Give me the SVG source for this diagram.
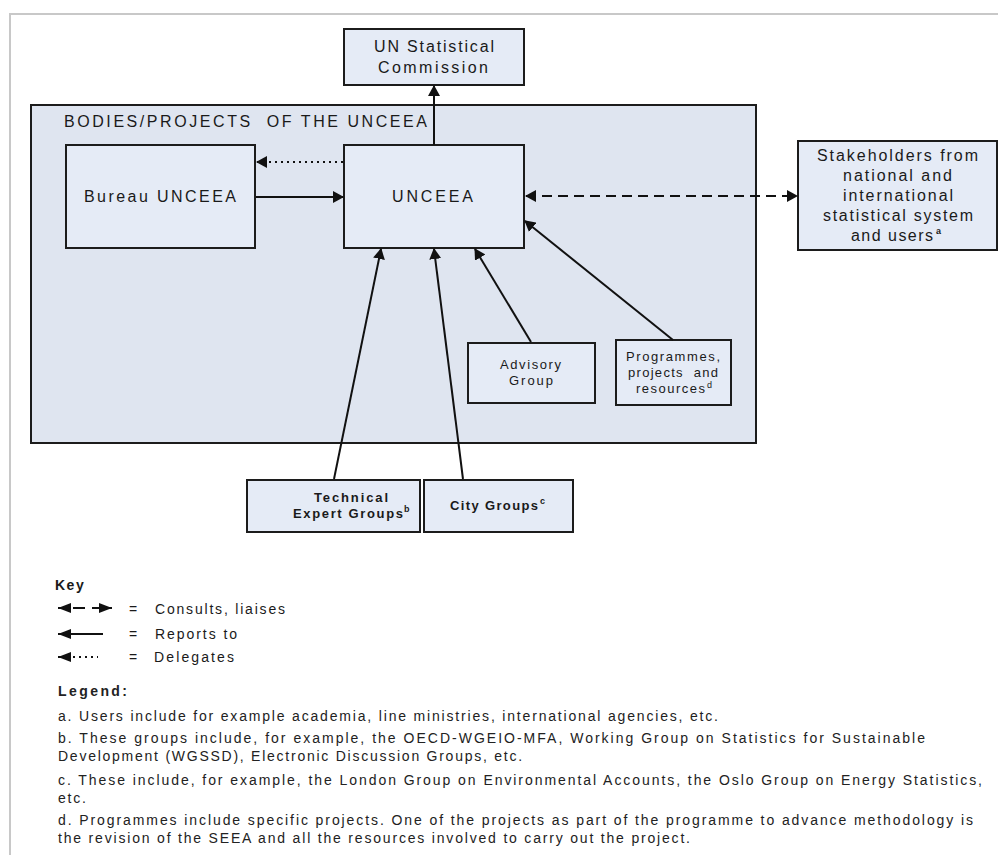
<svg xmlns="http://www.w3.org/2000/svg" width="998" height="855" viewBox="0 0 998 855">
<style>
text{font-family:"Liberation Sans",Arial,sans-serif;fill:#1a1a1a}
.box{fill:#e5ebf6;stroke:#1c1c1c;stroke-width:2}
.cont{fill:#dfe5f0;stroke:#1c1c1c;stroke-width:2}
.lbl{font-size:16px}
.sm{font-size:13px}
.bd{font-size:13px;font-weight:bold}
.sup{font-size:9px}
.ln{fill:none;stroke:#111;stroke-width:2}
.dot{stroke-dasharray:2 4}
.dash{stroke-dasharray:10 6}
.key{font-size:14px}
.leg{font-size:14px;fill:#222}
</style>
<defs>
<marker id="ah" markerUnits="userSpaceOnUse" markerWidth="12" markerHeight="12" refX="10" refY="6" orient="auto-start-reverse">
<path d="M0,0 L11,6 L0,12 z" fill="#111"/>
</marker>
<marker id="kh" markerUnits="userSpaceOnUse" markerWidth="14" markerHeight="10" refX="13" refY="5" orient="auto">
<path d="M0,0 L13,5 L0,10 z" fill="#111"/>
</marker>
</defs>
<rect width="998" height="855" fill="#fff"/>
<path d="M10,855 V14 H998" fill="none" stroke="#c8c8c8" stroke-width="2"/>

<g id="container">
<rect class="cont" x="31" y="105" width="725" height="338"/>
<text class="lbl" x="64" y="127" textLength="363" xml:space="preserve" style="white-space:pre">BODIES/PROJECTS  OF THE UNCEEA</text>
</g>

<g id="un-commission">
<rect class="box" x="344" y="29" width="180" height="56"/>
<text class="lbl" x="374" y="52" textLength="120">UN Statistical</text>
<text class="lbl" x="378" y="73" textLength="110">Commission</text>
</g>

<g id="bureau">
<rect class="box" x="66" y="145" width="189" height="103"/>
<text class="lbl" x="84" y="202" textLength="152">Bureau UNCEEA</text>
</g>

<g id="unceea">
<rect class="box" x="344" y="145" width="180" height="103"/>
<text class="lbl" x="392" y="202" textLength="81">UNCEEA</text>
</g>

<g id="stakeholders">
<rect class="box" x="798" y="141" width="199" height="109"/>
<text class="lbl" x="817" y="161" textLength="161">Stakeholders from</text>
<text class="lbl" x="843" y="181" textLength="109">national and</text>
<text class="lbl" x="843" y="201" textLength="110">international</text>
<text class="lbl" x="823" y="221" textLength="150">statistical system</text>
<text class="lbl" x="851" y="241" textLength="82">and users</text>
<text class="sup" x="936" y="234" font-weight="bold">a</text>
</g>

<g id="advisory">
<rect class="box" x="468" y="343" width="127" height="60"/>
<text class="sm" x="500" y="369" textLength="61">Advisory</text>
<text class="sm" x="509" y="385" textLength="44">Group</text>
</g>

<g id="programmes">
<rect class="box" x="616" y="340" width="115" height="65"/>
<text class="sm" x="626" y="361" textLength="94">Programmes,</text>
<text class="sm" x="628" y="377" textLength="90" xml:space="preserve" style="white-space:pre">projects  and</text>
<text class="sm" x="636" y="393" textLength="69">resources</text>
<text class="sup" x="707" y="388" font-size="7">d</text>
</g>

<g id="teg">
<rect class="box" x="247" y="480" width="173" height="52"/>
<text class="bd" x="314" y="502" textLength="74">Technical</text>
<text class="bd" x="293" y="518" textLength="110">Expert Groups</text>
<text class="sup" x="404" y="512" font-weight="bold">b</text>
</g>

<g id="city">
<rect class="box" x="424" y="480" width="149" height="52"/>
<text class="bd" x="450" y="510" textLength="88">City Groups</text>
<text class="sup" x="540" y="504" font-weight="bold">c</text>
</g>

<g id="connectors">
<path class="ln" d="M434,145 V86" marker-end="url(#ah)"/>
<path class="ln dot" d="M343,162 H257" marker-end="url(#ah)"/>
<path class="ln" d="M256,197 H343" marker-end="url(#ah)"/>
<path class="ln dash" d="M526,196 H797" marker-start="url(#ah)" marker-end="url(#ah)"/>
<path class="ln" d="M334,479 L381,249" marker-end="url(#ah)"/>
<path class="ln" d="M463,479 L434,249" marker-end="url(#ah)"/>
<path class="ln" d="M531,342 L475,249" marker-end="url(#ah)"/>
<path class="ln" d="M673,340 L525,221" marker-end="url(#ah)"/>
</g>

<g id="key">
<text class="key" x="55" y="590" font-weight="bold" letter-spacing="1.5">Key</text>
<path class="ln" d="M68,608 H58" marker-end="url(#kh)"/>
<path class="ln" d="M73,608 H85"/>
<path class="ln" d="M92,608 H112" marker-end="url(#kh)"/>
<text class="key" x="129" y="614">=</text>
<text class="key" x="155" y="614" textLength="130">Consults, liaises</text>
<path class="ln" d="M103,634 H58" marker-end="url(#kh)"/>
<text class="key" x="129" y="639">=</text>
<text class="key" x="155" y="639" textLength="82">Reports to</text>
<path class="ln" d="M68,657 H58" marker-end="url(#kh)"/>
<path class="ln dot" d="M73,657 H98"/>
<text class="key" x="129" y="662">=</text>
<text class="key" x="154" y="662" textLength="80">Delegates</text>
</g>

<g id="legend">
<text class="leg" x="58" y="696" font-weight="bold" textLength="69">Legend:</text>
<text class="leg" x="58" y="721" textLength="660">a. Users include for example academia, line ministries, international agencies, etc.</text>
<text class="leg" x="58" y="743" textLength="867">b. These groups include, for example, the OECD-WGEIO-MFA, Working Group on Statistics for Sustainable</text>
<text class="leg" x="58" y="761" letter-spacing="1.75">Development (WGSSD), Electronic Discussion Groups, etc.</text>
<text class="leg" x="58" y="785" textLength="924">c. These include, for example, the London Group on Environmental Accounts, the Oslo Group on Energy Statistics,</text>
<text class="leg" x="58" y="803" letter-spacing="1.75">etc.</text>
<text class="leg" x="58" y="825" textLength="915">d. Programmes include specific projects. One of the projects as part of the programme to advance methodology is</text>
<text class="leg" x="58" y="843" textLength="632">the revision of the SEEA and all the resources involved to carry out the project.</text>
</g>
</svg>
